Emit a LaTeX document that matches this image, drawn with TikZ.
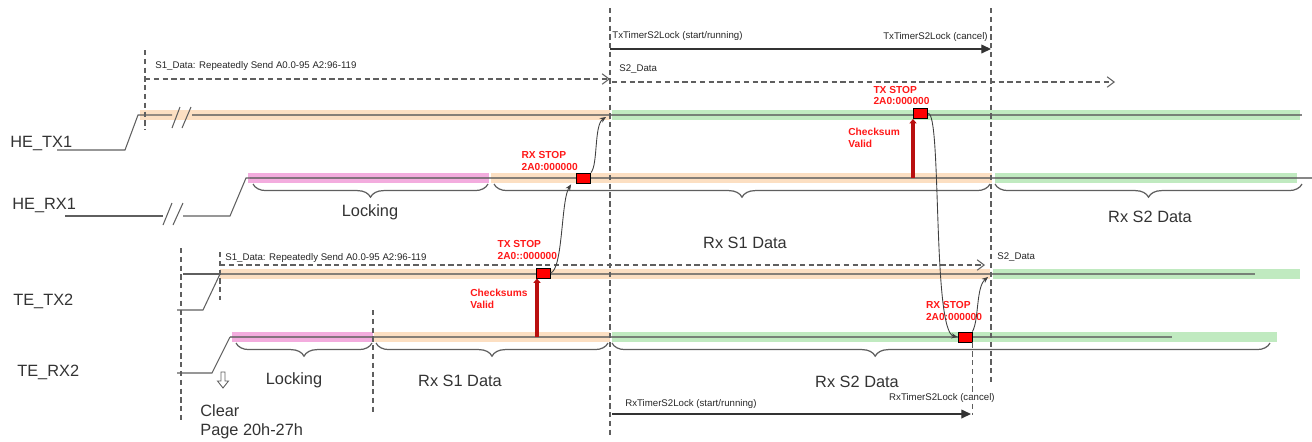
\documentclass[tikz,border=0pt]{standalone}
\usepackage{fontspec}
\setmainfont{Liberation Sans}
\usepackage{xcolor}
\usetikzlibrary{arrows.meta,positioning,calc,decorations.pathreplacing}
\definecolor{bandorange}{RGB}{252,223,194}
\definecolor{bandpink}{RGB}{243,172,222}
\definecolor{bandgreen}{RGB}{192,234,192}
\definecolor{wiregray}{RGB}{95,95,95}
\definecolor{stopred}{RGB}{255,0,0}
\definecolor{lblred}{RGB}{255,25,25}
\definecolor{validred}{RGB}{185,15,15}
\tikzset{
  wire/.style     = {draw=wiregray, line width=0.6pt},
  band/.style     = {draw=#1, line width=6.2pt},
  mid/.style      = {draw=wiregray, line width=0.6pt, opacity=0.75},
  vmark/.style    = {draw=wiregray, line width=0.6pt,
                     dash pattern=on 3pt off 2pt},
  sigtext/.style  = {font=\fontsize{9.3}{11}\selectfont, inner sep=0pt,
                     text=black!80},
  smalltext/.style= {font=\fontsize{5.5}{6.6}\selectfont, inner sep=0pt,
                     text=black!85},
  redtext/.style  = {font=\bfseries\fontsize{5.8}{6.5}\selectfont,
                     text=lblred, align=left, inner sep=0pt},
  stopbox/.style  = {rectangle, draw=black, fill=stopred, inner sep=0pt,
                     minimum width=0.28cm, minimum height=0.2cm,
                     line width=0.5pt},
  dataarrow/.style= {-{Straight Barb[length=4pt,width=6pt]}, draw=wiregray,
                     line width=0.6pt, dash pattern=on 3pt off 2pt},
  timerarrow/.style={-{Triangle[length=5.5pt,width=5pt]}, draw=black!80,
                     line width=0.7pt},
  linkarrow/.style= {-{Stealth[length=3.5pt,width=3pt]}, draw=black!75,
                     line width=0.5pt},
  validarrow/.style={-{Triangle[length=2.5pt,width=4pt]}, draw=validred,
                     line width=2pt},
  bracedown/.style= {decorate, draw=wiregray, line width=0.7pt,
                     decoration={brace, mirror, amplitude=7.5pt, aspect=#1}},
  bracedown/.default=0.5,
}
\begin{document}
\begin{tikzpicture}[x=0.02cm, y=-0.02cm]
  \useasboundingbox (0,0) rectangle (1312,441);

  %% ---- Signal names ----
  \node[sigtext, anchor=west] (hetx) at (10,143) {HE\_TX1};
  \node[sigtext, anchor=west] (herx) at (12,205) {HE\_RX1};
  \node[sigtext, anchor=west] (tetx) at (13,301) {TE\_TX2};
  \node[sigtext, anchor=west] (terx) at (17,372) {TE\_RX2};

  %% ---- Bands ----
  \draw[band=bandorange] (140,115) -- (610,115);
  \draw[band=bandgreen]  (612,115) -- (1300,115);
  \draw[band=bandpink]   (248,178) -- (489,178);
  \draw[band=bandorange] (491,178) -- (992,178);
  \draw[band=bandgreen]  (995,178) -- (1297,178);
  \draw[band=bandorange] (220,274) -- (990,274);
  \draw[band=bandgreen]  (993,274) -- (1300,274);
  \draw[band=bandpink]   (232,337) -- (373,337);
  \draw[band=bandorange] (374,337) -- (610,337);
  \draw[band=bandgreen]  (612,337) -- (1277,337);

  %% ---- HE_TX1 trace ----
  \draw[wire] (57,150) -- (125,150) -- (138,115) -- (172,115);
  \draw[mid]  (192,115) -- (1302,115);
  \draw[wire] (172,128) -- (180,107);
  \draw[wire] (182,128) -- (191,107);

  %% ---- HE_RX1 trace ----
  \draw[wire] (65,216) -- (163,216);
  \draw[wire] (183,216) -- (230,216) -- (246,178) -- (250,178);
  \draw[mid]  (250,178) -- (1312,178);
  \draw[wire] (163,225) -- (172,203);
  \draw[wire] (173,225) -- (183,203);

  %% ---- TE_TX2 trace ----
  \draw[wire] (177,310) -- (203,310) -- (220,274);
  \draw[wire] (183,274) -- (220,274);
  \draw[mid]  (220,274) -- (1255,274);

  %% ---- TE_RX2 trace ----
  \draw[wire] (177,373) -- (212,373) -- (230,337);
  \draw[mid]  (230,337) -- (1172,337);

  %% ---- Vertical markers ----
  \draw[vmark] (145,50)  -- (145,130);
  \draw[vmark] (610,8)   -- (610,435);
  \draw[vmark] (991,8)   -- (991,385);
  \draw[vmark] (181,248) -- (181,420);
  \draw[vmark] (220,252) -- (220,300);
  \draw[vmark] (373,310) -- (373,415);

  %% ---- Data / timer arrows ----
  \node[smalltext, anchor=west] (s1he) at (155,66) {S1\_Data: Repeatedly Send A0.0-95 A2:96-119};
  \draw[dataarrow] (145,79) -- (610,79);
  \node[smalltext, anchor=west] (s2he) at (619,69) {S2\_Data};
  \draw[dataarrow] (612,82) -- (1115,82);
  \node[smalltext, anchor=west] (txon) at (612,36) {TxTimerS2Lock (start/running)};
  \node[smalltext, anchor=east] (txoff) at (988,37) {TxTimerS2Lock (cancel)};
  \draw[timerarrow] (610,49) -- (991,49);

  \node[smalltext, anchor=west] (s1te) at (225,258) {S1\_Data: Repeatedly Send A0.0-95 A2:96-119};
  \draw[dataarrow] (220,265) -- (985,265);
  \node[smalltext, anchor=west] (s2te) at (997,257) {S2\_Data};
  \node[smalltext, anchor=west] (rxon) at (625,404) {RxTimerS2Lock (start/running)};
  \node[smalltext, anchor=east] (rxoff) at (995,398) {RxTimerS2Lock (cancel)};

  %% ---- Braces ----
  \draw[bracedown] (253,184) -- (488,184);
  \draw[bracedown] (494,184) -- (990,184);
  \draw[bracedown] (995,184) -- (1302,184);
  \draw[bracedown] (236,343) -- (372,343);
  \draw[bracedown] (376,343) -- (608,343);
  \draw[bracedown=0.4] (612,343) -- (1270,343);
  \node[sigtext] (lockhe) at (370,212)  {Locking};
  \node[sigtext] (s1rxhe) at (745,243)  {Rx S1 Data};
  \node[sigtext] (s2rxhe) at (1150,217) {Rx S2 Data};
  \node[sigtext] (lockte) at (294,380)  {Locking};
  \node[sigtext] (s1rxte) at (460,381)  {Rx S1 Data};
  \node[sigtext] (s2rxte) at (857,382)  {Rx S2 Data};

  %% ---- Clear page ----
  \draw[wiregray, line width=0.5pt] (221,372) -- (221,381) -- (217.5,381)
        -- (223,388) -- (228.5,381) -- (225,381) -- (225,372) -- cycle;
  \node[sigtext, anchor=north west, align=left] (clear) at (200,404)
        {Clear\\Page 20h-27h};

  %% ---- Stop boxes ----
  \node[stopbox] (rxstopA) at (583.5,178) {};
  \node[stopbox] (txstopA) at (920.5,113.5) {};
  \node[stopbox] (txstopB) at (543,273) {};
  \node[stopbox] (rxstopB) at (965,337) {};
  \node[redtext, anchor=south east] (rxlblA) at ($(rxstopA.north west)+(2,-2)$)
        {RX STOP\\2A0:000000};
  \node[redtext, anchor=south east] (txlblA) at ($(txstopA.north east)+(2,-3)$)
        {TX STOP\\2A0:000000};
  \node[redtext, anchor=south east] (txlblB) at ($(txstopB.north east)+(7,-8)$)
        {TX STOP\\2A0::000000};
  \node[redtext, anchor=south east] (rxlblB) at ($(rxstopB.north east)+(10,-11)$)
        {RX STOP\\2A0:000000};
  \node[redtext, anchor=north west] (validA) at (848,128) {Checksum\\Valid};
  \node[redtext, anchor=north west] (validB) at (470,289) {Checksums\\Valid};

  %% ---- Links between lanes ----
  \coordinate (txAend) at (606,117);
  \coordinate (rxAin)  at ($(rxstopA.south west)+(-5,1)$);
  \coordinate (txBend) at (988,277);
  \coordinate (csA)    at (913,178);
  \coordinate (csB)    at (537,337);
  \draw[linkarrow] (rxstopA.north east) .. controls (598,165) and (594,125) .. (txAend);
  \draw[linkarrow] (txstopB.east) .. controls (563,270) and (561,200) .. (rxAin);
  \draw[linkarrow] (txstopA.east) .. controls (942,110) and (932,332) .. (rxstopB.west);
  \draw[linkarrow] (rxstopB.north east) .. controls (979,320) and (976,287) .. (txBend);
  \draw[validarrow] (csA) -- (csA |- txstopA.south);
  \draw[validarrow] (csB) -- (csB |- txstopB.south);

  %% ---- Rx timer ----
  \draw[vmark] (rxstopB.south east) -- ++(0,73);
  \draw[timerarrow] (612,414) -- (971,414);

\end{tikzpicture}
\end{document}
